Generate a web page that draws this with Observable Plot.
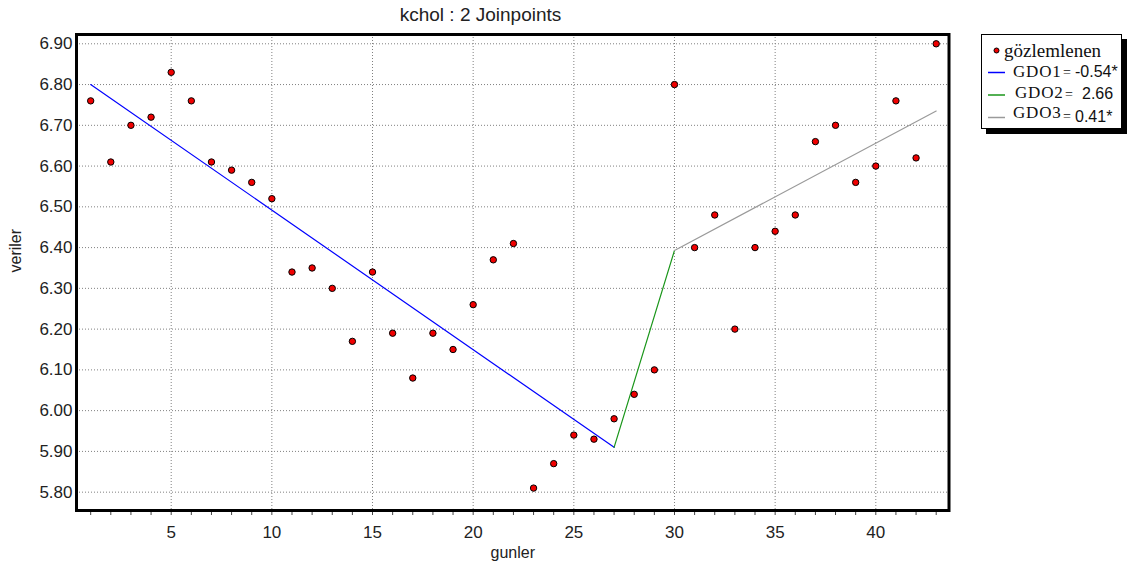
<!DOCTYPE html>
<html><head><meta charset="utf-8">
<script src="https://cdn.jsdelivr.net/npm/d3@7"></script>
<script src="https://cdn.jsdelivr.net/npm/@observablehq/plot@0.6"></script>
<style>
body{margin:0;background:#fff;}
#chart{position:relative;width:1132px;height:570px;}
</style></head><body><div id="chart"></div>
<script>
const title = "kchol : 2 Joinpoints";
const xLabel = "gunler";
const yLabel = "veriler";
const days = [1,2,3,4,5,6,7,8,9,10,11,12,13,14,15,16,17,18,19,20,21,22,23,24,25,26,27,28,29,30,31,32,33,34,35,36,37,38,39,40,41,42,43];
const values = [6.76,6.61,6.70,6.72,6.83,6.76,6.61,6.59,6.56,6.52,6.34,6.35,6.30,6.17,6.34,6.19,6.08,6.19,6.15,6.26,6.37,6.41,5.81,5.87,5.94,5.93,5.98,6.04,6.10,6.80,6.40,6.48,6.20,6.40,6.44,6.48,6.66,6.70,6.56,6.60,6.76,6.62,6.90];
const joinX = [1,27,30,43];
const joinY = [6.80,5.91,6.393,6.735];
const segNames = ["GDO1","GDO2","GDO3"];
const segColors = ["#0000ff","#1a961a","#9a9a9a"];
const segApc = ["-0.54*","2.66","0.41*"];
const obsLabel = "gözlemlenen";
const xTicks = [5,10,15,20,25,30,35,40];
const yTicks = [5.8,5.9,6.0,6.1,6.2,6.3,6.4,6.5,6.6,6.7,6.8,6.9];

const obs = days.map((d,i)=>({x:d,y:values[i]}));
const segs = [];
segNames.forEach((s,i)=>{
  segs.push({seg:s,x:joinX[i],y:joinY[i]});
  segs.push({seg:s,x:joinX[i+1],y:joinY[i+1]});
});

const plot = Plot.plot({
  width:1132, height:570,
  marginLeft:76, marginRight:183.5, marginTop:34, marginBottom:60,
  style:{fontFamily:"'Liberation Sans', Arial, sans-serif", fontSize:"17px", color:"#222", background:"#fff", overflow:"visible"},
  x:{domain:[0.296,43.636]},
  y:{domain:[5.755,6.9228]},
  color:{domain:segNames, range:segColors},
  marks:[
    Plot.gridX(xTicks,{stroke:"#808080", strokeOpacity:1, strokeDasharray:"1,2"}),
    Plot.gridY(yTicks,{stroke:"#808080", strokeOpacity:1, strokeDasharray:"1,2"}),
    Plot.axisX(days,{tickSize:5, tickPadding:10, stroke:"#444", tickFormat:d=> d%5===0 ? String(d) : "", label:null}),
    Plot.axisY(yTicks,{tickSize:0, tickPadding:4, tickFormat:d3.format(".2f"), label:null}),
    Plot.line(segs,{x:"x", y:"y", z:"seg", stroke:"seg", strokeWidth:1.2}),
    Plot.dot(obs,{x:"x", y:"y", r:3.2, fill:"#f00000", stroke:"#000", strokeWidth:1}),
    Plot.frame({stroke:"#000", strokeWidth:3}),
    Plot.text([yLabel],{text:d=>d, frameAnchor:"left", dx:-61, rotate:-90, fontSize:16, fill:"#222"}),
    Plot.text([xLabel],{text:d=>d, frameAnchor:"bottom", dy:47, fontSize:16, fill:"#222"})
  ]
});
document.getElementById("chart").appendChild(plot);

const svg = d3.select(plot);
svg.append("text").attr("x",480.5).attr("y",20.5).attr("text-anchor","middle")
  .attr("font-size",19).attr("fill","#222").text(title);

// legend
const lg = svg.append("g").attr("text-anchor","start");
lg.append("rect").attr("x",986).attr("y",39).attr("width",141).attr("height",95).attr("fill","#000");
lg.append("rect").attr("x",981.5).attr("y",34.5).attr("width",140).attr("height",94).attr("fill","#fff").attr("stroke","#000").attr("stroke-width",1);
lg.append("circle").attr("cx",996.5).attr("cy",50.5).attr("r",2.5).attr("fill","#f00000").attr("stroke","#000").attr("stroke-width",1);
lg.append("text").attr("x",1004).attr("y",56.5).attr("font-family","'Liberation Serif', 'Times New Roman', serif").attr("font-size",19).attr("fill","#111").text(obsLabel);
const rowY = [72.5, 95, 117.5];
const nameBase = [77, 98, 118];
const valBase = [77, 99, 121.5];
const eqBase = [77, 99, 121];
const nameX = [1013, 1015, 1013];
const valX = [1075, 1082, 1075];
segNames.forEach((s,i)=>{
  lg.append("line").attr("x1",988).attr("x2",1005).attr("y1",rowY[i]).attr("y2",rowY[i]).attr("stroke",segColors[i]).attr("stroke-width",1.5);
  lg.append("text").attr("x",nameX[i]).attr("y",nameBase[i]).attr("font-family","'Liberation Serif', 'Times New Roman', serif").attr("font-size",17).attr("letter-spacing",0.8).attr("fill","#111").text(s);
  lg.append("text").attr("x",nameX[i]+50).attr("y",eqBase[i]).attr("font-family","'Liberation Serif', serif").attr("font-size",14).attr("fill","#111").text("=");
  lg.append("text").attr("x",valX[i]).attr("y",valBase[i]).attr("font-family","'Liberation Sans', Arial, sans-serif").attr("font-size",16).attr("fill","#111").text(segApc[i]);
});
</script></body></html>
